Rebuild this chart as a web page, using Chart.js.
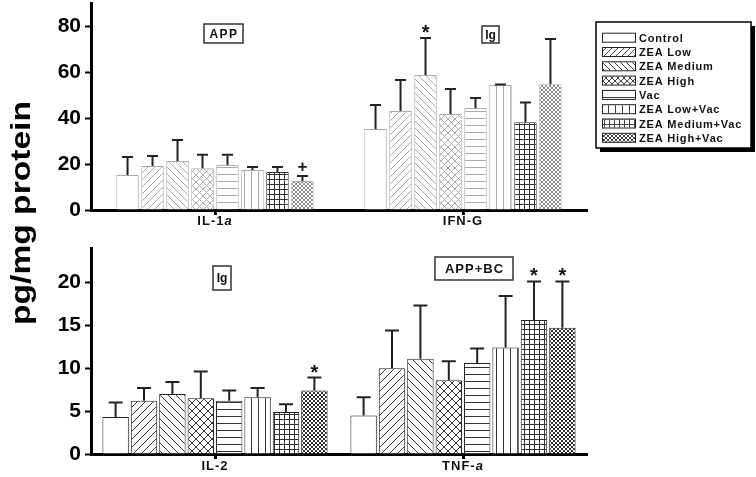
<!DOCTYPE html>
<html>
<head>
<meta charset="utf-8">
<script src="https://cdn.jsdelivr.net/npm/chart.js"></script>
<style>
  body { margin: 0; background: #fff; }
  #wrap { position: relative; width: 756px; height: 477px; overflow: hidden; }
  #top { position: absolute; left: 0; top: 0; }
  #bottom { position: absolute; left: 0; top: 235px; }
  #ytitle {
    position: absolute; left: 21px; top: 213px;
    transform: translate(-50%, -50%) rotate(-90deg) scaleX(1.2);
    font: bold 28px "Liberation Sans", Arial, sans-serif;
    white-space: nowrap; color: #000;
  }
</style>
</head>
<body>
<div id="wrap">
  <canvas id="top" width="756" height="235"></canvas>
  <canvas id="bottom" width="756" height="242"></canvas>
  <div id="ytitle">pg/mg protein</div>
</div>
<script>
// groups and categories
const groups = ['Control', 'ZEA Low', 'ZEA Medium', 'ZEA High', 'Vac', 'ZEA Low+Vac', 'ZEA Medium+Vac', 'ZEA High+Vac'];
const topCats = ['IL-1a', 'IFN-G'];
const bottomCats = ['IL-2', 'TNF-a'];

// values (mean, upper error)
const il1a    = [15.2, 19.1, 21.3, 18.2, 19.6, 17.4, 16.5, 12.6];
const il1aErr = [7.8, 4.4, 9.1, 5.8, 4.4, 1.3, 2.2, 2.2];
const il1aMk  = ['', '', '', '', '', '', '', '+'];
const ifng    = [35.2, 43.0, 58.7, 41.7, 44.3, 54.3, 38.2, 54.7];
const ifngErr = [10.4, 13.5, 16.1, 10.9, 4.4, 0.3, 8.5, 19.6];
const ifngMk  = ['', '', '*', '', '', '', '', ''];
const il2     = [4.3, 6.2, 7.0, 6.5, 6.2, 6.6, 4.9, 7.4];
const il2Err  = [1.7, 1.5, 1.4, 3.1, 1.2, 1.1, 0.9, 1.5];
const il2Mk   = ['', '', '', '', '', '', '', '*'];
const tnfa    = [4.5, 10.0, 11.1, 8.6, 10.6, 12.4, 15.6, 14.7];
const tnfaErr = [2.1, 4.4, 6.2, 2.2, 1.7, 6.0, 4.5, 5.4];
const tnfaMk  = ['', '', '', '', '', '', '*', '*'];

const topTicks = [0, 20, 40, 60, 80];
const bottomTicks = [0, 5, 10, 15, 20];

const FONT = '"Liberation Sans", Arial, sans-serif';
Chart.defaults.font.family = FONT;

const kinds = ['none', 'up', 'down', 'cross', 'h', 'v', 'grid', 'dense'];

function makePattern(kind, color, s, lw) {
  const c = document.createElement('canvas');
  c.width = c.height = s;
  const g = c.getContext('2d');
  g.fillStyle = '#fff';
  g.fillRect(0, 0, s, s);
  g.strokeStyle = color;
  g.lineWidth = lw;
  g.beginPath();
  if (kind === 'up' || kind === 'cross' || kind === 'dense') {
    g.moveTo(0, s); g.lineTo(s, 0);
    g.moveTo(-s / 2, s / 2); g.lineTo(s / 2, -s / 2);
    g.moveTo(s / 2, s * 1.5); g.lineTo(s * 1.5, s / 2);
  }
  if (kind === 'down' || kind === 'cross' || kind === 'dense') {
    g.moveTo(0, 0); g.lineTo(s, s);
    g.moveTo(-s / 2, s / 2); g.lineTo(s / 2, s * 1.5);
    g.moveTo(s / 2, -s / 2); g.lineTo(s * 1.5, s / 2);
  }
  if (kind === 'h' || kind === 'grid') { g.moveTo(0, s - 0.5); g.lineTo(s, s - 0.5); }
  if (kind === 'v' || kind === 'grid') { g.moveTo(s - 0.5, 0); g.lineTo(s - 0.5, s); }
  g.stroke();
  return g.createPattern(c, 'repeat');
}

function tileSize(kind, base) {
  if (kind === 'dense') return 4;
  if (kind === 'grid') return 5;
  if (kind === 'h' || kind === 'v') return 7;
  return base;
}

const topPats = kinds.map((k, i) => k === 'none' ? '#fff' :
  makePattern(k, i === 6 ? '#333' : (i === 7 ? '#888' : '#aaa'), tileSize(k, 7), 1));
const topBorders = kinds.map((k, i) => i === 6 ? '#333' : '#aaa');
const bottomPats = kinds.map(k => k === 'none' ? '#fff' : makePattern(k, '#333', tileSize(k, 8), 1));
const legendPats = kinds.map(k => k === 'none' ? '#fff' : makePattern(k, '#444', tileSize(k, 6), 1));

function buildSets(a, aErr, aMk, b, bErr, bMk, pats, borders) {
  return groups.map((g, i) => ({
    label: g,
    data: [a[i], b[i]],
    err: [aErr[i], bErr[i]],
    marks: [aMk[i], bMk[i]],
    backgroundColor: pats[i],
    borderColor: borders[i],
    borderWidth: 1
  }));
}

const errorBars = {
  id: 'errorBars',
  afterDatasetsDraw(chart, args, opts) {
    const ctx = chart.ctx;
    const y = chart.scales.y;
    ctx.save();
    chart.data.datasets.forEach((ds, i) => {
      chart.getDatasetMeta(i).data.forEach((bar, j) => {
        const top = y.getPixelForValue(ds.data[j] + ds.err[j]);
        ctx.strokeStyle = '#222';
        ctx.lineWidth = 2;
        ctx.beginPath();
        ctx.moveTo(bar.x, bar.y);
        ctx.lineTo(bar.x, top);
        ctx.moveTo(bar.x - opts.cap / 2, top);
        ctx.lineTo(bar.x + opts.cap / 2, top);
        ctx.stroke();
        const mk = ds.marks[j];
        if (mk) {
          ctx.font = 'bold ' + (mk === '*' ? 20 : 17) + 'px ' + FONT;
          ctx.fillStyle = '#111';
          ctx.textAlign = 'center';
          ctx.textBaseline = 'alphabetic';
          const m = ctx.measureText(mk);
          const cy = top - 9;
          ctx.fillText(mk, bar.x, cy + (m.actualBoundingBoxAscent - m.actualBoundingBoxDescent) / 2);
        }
      });
    });
    ctx.restore();
  }
};

const catLabels = {
  id: 'catLabels',
  afterDraw(chart, args, opts) {
    const ctx = chart.ctx;
    const x = chart.scales.x;
    ctx.save();
    ctx.fillStyle = '#111';
    ctx.textBaseline = 'middle';
    ctx.textAlign = 'left';
    ctx.letterSpacing = '1px';
    chart.data.labels.forEach((lab, i) => {
      const m = lab.match(/^(.*?)([a-z])$/);
      const main = m ? m[1] : lab;
      const tail = m ? m[2] : '';
      ctx.font = 'bold 13px ' + FONT;
      const w1 = ctx.measureText(main).width;
      ctx.font = 'italic bold 13px ' + FONT;
      const w2 = tail ? ctx.measureText(tail).width : 0;
      const cx = x.getPixelForValue(i);
      let sx = cx - (w1 + w2) / 2;
      ctx.font = 'bold 13px ' + FONT;
      ctx.fillText(main, sx, opts.y);
      if (tail) {
        ctx.font = 'italic bold 13px ' + FONT;
        ctx.fillText(tail, sx + w1, opts.y);
      }
    });
    ctx.restore();
  }
};

const noteBoxes = {
  id: 'noteBoxes',
  afterDraw(chart, args, opts) {
    const ctx = chart.ctx;
    ctx.save();
    opts.items.forEach(b => {
      ctx.fillStyle = '#fff';
      ctx.fillRect(b.x, b.y, b.w, b.h);
      ctx.strokeStyle = '#333';
      ctx.lineWidth = 1.5;
      ctx.strokeRect(b.x, b.y, b.w, b.h);
      ctx.font = 'bold ' + b.size + 'px ' + FONT;
      ctx.letterSpacing = b.ls || '0px';
      ctx.fillStyle = '#111';
      ctx.textAlign = 'center';
      ctx.textBaseline = 'middle';
      ctx.fillText(b.text, b.x + b.w / 2 + (b.ls ? 0.5 : 0), b.y + b.h / 2 + 1);
    });
    ctx.restore();
  }
};

const legendBox = {
  id: 'legendBox',
  afterDraw(chart, args, opts) {
    const ctx = chart.ctx;
    const bx = 596, by = 22, bw = 155, bh = 126;
    ctx.save();
    ctx.fillStyle = '#000';
    ctx.fillRect(bx + 4, by + 4, bw, bh);
    ctx.fillStyle = '#fff';
    ctx.fillRect(bx, by, bw, bh);
    ctx.strokeStyle = '#000';
    ctx.lineWidth = 1.5;
    ctx.strokeRect(bx, by, bw, bh);
    chart.data.datasets.forEach((ds, i) => {
      const cy = 37.7 + i * 14.3;
      ctx.fillStyle = legendPats[i];
      ctx.fillRect(602, cy - 4, 33, 8);
      ctx.strokeStyle = '#222';
      ctx.lineWidth = 1;
      ctx.strokeRect(602.5, cy - 4.5, 33, 9);
      ctx.fillStyle = '#111';
      ctx.font = 'bold 11px ' + FONT;
      ctx.letterSpacing = '0.8px';
      ctx.textAlign = 'left';
      ctx.textBaseline = 'middle';
      ctx.fillText(ds.label, 639, cy + 1);
    });
    ctx.restore();
  }
};

function makeChart(id, cats, sets, yMax, step, tickVals, pad, xH, catPct, barPct, cap, labelY, boxes, extra) {
  return new Chart(document.getElementById(id), {
    type: 'bar',
    data: { labels: cats, datasets: sets },
    options: {
      responsive: false,
      animation: false,
      categoryPercentage: catPct,
      barPercentage: barPct,
      layout: { padding: pad },
      plugins: {
        legend: { display: false },
        tooltip: { enabled: false },
        errorBars: { cap: cap },
        catLabels: { y: labelY },
        noteBoxes: { items: boxes }
      },
      scales: {
        x: {
          offset: true,
          grid: { offset: false, drawOnChartArea: false, drawTicks: true, tickLength: 5, tickWidth: 3, tickColor: '#000' },
          border: { display: true, color: '#000', width: 3 },
          ticks: { display: false },
          afterFit(s) { s.height = xH; s.paddingLeft = 0; s.paddingRight = 0; }
        },
        y: {
          min: 0,
          max: yMax,
          ticks: { stepSize: step, color: '#000', padding: 4, font: { size: 21, weight: 'bold' } },
          grid: { drawOnChartArea: false, drawTicks: true, tickLength: 6, tickWidth: 2, tickColor: '#000' },
          border: { display: true, color: '#000', width: 3 },
          afterBuildTicks(s) { s.ticks = tickVals.map(v => ({ value: v })); },
          afterFit(s) { s.width = 91; s.paddingTop = 0; s.paddingBottom = 0; }
        }
      }
    },
    plugins: [errorBars, catLabels, noteBoxes].concat(extra)
  });
}

makeChart('top', topCats,
  buildSets(il1a, il1aErr, il1aMk, ifng, ifngErr, ifngMk, topPats, topBorders),
  90, 20, topTicks, { top: 3, right: 169, left: 0, bottom: 0 }, 25, 0.806, 0.9, 11, 221,
  [{ text: 'APP', x: 204, y: 24, w: 39, h: 19, size: 12, ls: '1.5px' },
   { text: 'Ig', x: 482, y: 26, w: 17, h: 17, size: 12 }],
  [legendBox]);

makeChart('bottom', bottomCats,
  buildSets(il2, il2Err, il2Mk, tnfa, tnfaErr, tnfaMk, bottomPats, groups.map(() => '#222')),
  24, 5, bottomTicks, { top: 13, right: 169, left: 0, bottom: 0 }, 23, 0.916, 0.93, 14, 231,
  [{ text: 'Ig', x: 213, y: 31, w: 18, h: 24, size: 12 },
   { text: 'APP+BC', x: 435, y: 22, w: 78, h: 23, size: 13, ls: '1px' }],
  []);
</script>
</body>
</html>
